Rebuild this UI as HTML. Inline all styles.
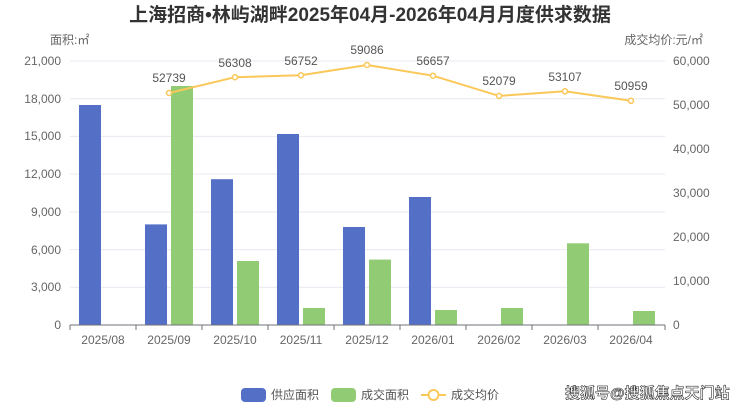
<!DOCTYPE html><html><head><meta charset="utf-8"><style>body{margin:0;background:#fff}svg{font-family:"Liberation Sans","Noto Sans CJK SC",sans-serif}</style></head><body>
<svg width="740" height="407" xmlns="http://www.w3.org/2000/svg">
<text x="370" y="21" text-anchor="middle" font-size="19" font-weight="bold" fill="#333">上海招商•林屿湖畔2025年04月-2026年04月月度供求数据</text>
<text x="50" y="44" font-size="12" fill="#666">面积:㎡</text>
<text x="703" y="44" font-size="12" fill="#666" text-anchor="end">成交均价:元/㎡</text>
<g stroke="#e6e9f0" stroke-width="1">
<line x1="70" x2="665" y1="61" y2="61"/><line x1="70" x2="665" y1="98.7" y2="98.7"/><line x1="70" x2="665" y1="136.4" y2="136.4"/><line x1="70" x2="665" y1="174.1" y2="174.1"/><line x1="70" x2="665" y1="211.9" y2="211.9"/><line x1="70" x2="665" y1="249.6" y2="249.6"/><line x1="70" x2="665" y1="287.3" y2="287.3"/></g>
<g font-size="12" fill="#666" text-anchor="end">
<text x="61" y="65">21,000</text><text x="61" y="103">18,000</text><text x="61" y="140">15,000</text><text x="61" y="178">12,000</text><text x="61" y="216">9,000</text><text x="61" y="254">6,000</text><text x="61" y="291">3,000</text><text x="61" y="329">0</text></g>
<g font-size="12" fill="#666">
<text x="673" y="65">60,000</text><text x="673" y="109">50,000</text><text x="673" y="153">40,000</text><text x="673" y="197">30,000</text><text x="673" y="241">20,000</text><text x="673" y="285">10,000</text><text x="673" y="329">0</text></g>
<g fill="#5470c6">
<rect x="79" y="105" width="22" height="220"/><rect x="145" y="224.4" width="22" height="100.6"/><rect x="211" y="179.2" width="22" height="145.8"/><rect x="277" y="134" width="22" height="191"/><rect x="343" y="227" width="22" height="98"/><rect x="409" y="197" width="22" height="128"/></g>
<g fill="#91cc75">
<rect x="171" y="86" width="22" height="239"/><rect x="237" y="261" width="22" height="64"/><rect x="303" y="308" width="22" height="17"/><rect x="369" y="259.6" width="22" height="65.4"/><rect x="435" y="310" width="22" height="15"/><rect x="501" y="308" width="22" height="17"/><rect x="567" y="243.3" width="22" height="81.7"/><rect x="633" y="311" width="22" height="14"/></g>
<line x1="70" x2="665" y1="325" y2="325" stroke="#6e7079"/>
<g stroke="#6e7079"><line x1="70" x2="70" y1="325" y2="330"/><line x1="136" x2="136" y1="325" y2="330"/><line x1="202" x2="202" y1="325" y2="330"/><line x1="268" x2="268" y1="325" y2="330"/><line x1="334" x2="334" y1="325" y2="330"/><line x1="400" x2="400" y1="325" y2="330"/><line x1="466" x2="466" y1="325" y2="330"/><line x1="532" x2="532" y1="325" y2="330"/><line x1="598" x2="598" y1="325" y2="330"/><line x1="665" x2="665" y1="325" y2="330"/></g>
<g font-size="12" fill="#666" text-anchor="middle">
<text x="103" y="344">2025/08</text><text x="169" y="344">2025/09</text><text x="235" y="344">2025/10</text><text x="301" y="344">2025/11</text><text x="367" y="344">2025/12</text><text x="433" y="344">2026/01</text><text x="499" y="344">2026/02</text><text x="565" y="344">2026/03</text><text x="631" y="344">2026/04</text></g>
<polyline fill="none" stroke="#fac858" stroke-width="2" points="169,93 235,77.2 301,75.3 367,65 433,75.7 499,95.9 565,91.3 631,100.8"/>
<g fill="#fff" stroke="#fac858" stroke-width="1.5"><circle cx="169" cy="93" r="2.5"/><circle cx="235" cy="77.2" r="2.5"/><circle cx="301" cy="75.3" r="2.5"/><circle cx="367" cy="65" r="2.5"/><circle cx="433" cy="75.7" r="2.5"/><circle cx="499" cy="95.9" r="2.5"/><circle cx="565" cy="91.3" r="2.5"/><circle cx="631" cy="100.8" r="2.5"/></g>
<g font-size="12" fill="#555" text-anchor="middle">
<text x="169" y="82">52739</text><text x="235" y="67">56308</text><text x="301" y="65">56752</text><text x="367" y="54">59086</text><text x="433" y="65">56657</text><text x="499" y="85">52079</text><text x="565" y="81">53107</text><text x="631" y="90">50959</text></g>
<rect x="241" y="388" width="25" height="14" rx="4" fill="#5470c6"/><text x="271" y="399" font-size="12" fill="#555">供应面积</text>
<rect x="331" y="388" width="25" height="14" rx="4" fill="#91cc75"/><text x="361" y="399" font-size="12" fill="#555">成交面积</text>
<line x1="421" x2="446" y1="395" y2="395" stroke="#fac858" stroke-width="2"/><circle cx="433.5" cy="395" r="5" fill="#fff" stroke="#fac858" stroke-width="2"/><text x="451" y="399" font-size="12" fill="#555">成交均价</text>
<text x="565" y="398" font-size="15" font-weight="bold" fill="#fff" stroke="#333" stroke-width="0.6">搜狐号@搜狐焦点天门站</text>
</svg></body></html>
